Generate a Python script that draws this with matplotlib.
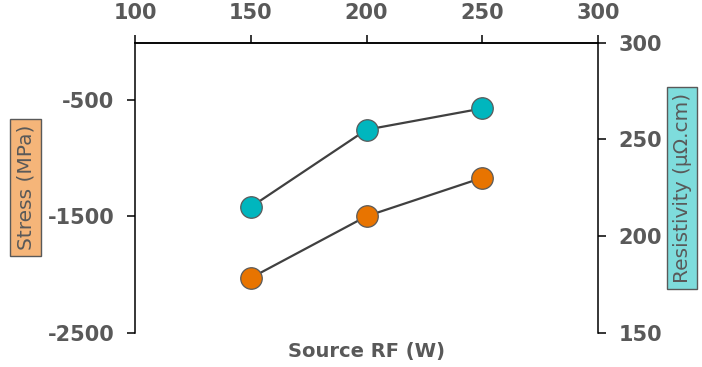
import matplotlib
matplotlib.use("Agg")
import matplotlib.pyplot as plt

plt.rcParams["axes.unicode_minus"] = False

source_rf = [150, 200, 250]
stress = [-2030, -1500, -1170]
resistivity = [215, 255, 266]
x_ticks = [100, 150, 200, 250, 300]
stress_ticks = [-2500, -1500, -500]
res_ticks = [150, 200, 250, 300]

TXT = "#595959"
FONT = ["DejaVu Sans"]

fig = plt.figure(figsize=(7.02, 3.67), dpi=100)
ax = fig.add_axes([135/702, 1-332.7/367, (598-135)/702, (332.7-42.7)/367])
ax2 = ax.twinx()

ax.plot(source_rf, stress, color="#404040", lw=1.6, marker="o", ms=15.5,
        mfc="#E87400", mec="#5a5a5a", mew=0.9, zorder=3)
ax2.plot(source_rf, resistivity, color="#404040", lw=1.6, marker="o", ms=15.5,
         mfc="#00B6BE", mec="#5a5a5a", mew=0.9, zorder=3)

ax.set_xlim(100, 300)
ax.set_ylim(-2500, -10)
ax2.set_ylim(150, 300)
ax.set_xticks(x_ticks)
ax.set_yticks(stress_ticks)
ax2.set_yticks(res_ticks)

ax.xaxis.tick_top()
for a in (ax, ax2):
    a.spines["bottom"].set_visible(False)
    for s in a.spines.values():
        s.set_color("black")
        s.set_linewidth(1.1)
ax2.spines["left"].set_visible(False)
ax.spines["right"].set_visible(False)

ax.tick_params(axis="x", which="both", top=True, bottom=False, labeltop=True, labelbottom=False,
               length=6, width=1.1, pad=8, labelsize=15, labelcolor=TXT, direction="out")
ax.tick_params(axis="y", length=6, width=1.1, pad=9, labelsize=15, labelcolor=TXT, direction="out")
ax2.tick_params(axis="y", length=6, width=1.1, pad=9, labelsize=15, labelcolor=TXT, direction="out")
for lab in ax.get_xticklabels() + ax.get_yticklabels() + ax2.get_yticklabels():
    lab.set_fontfamily(FONT)
    lab.set_fontweight("bold")

fig.text(366.5/702, 1-352/367, "Source RF (W)", ha="center", va="center",
         fontsize=14, fontweight="bold", color=TXT, family=FONT)

fig.text(25.5/702, 1-187.5/367, "Stress (MPa)", rotation=90, ha="center", va="center",
         fontsize=14.5, color=TXT, family=FONT,
         bbox=dict(boxstyle="square,pad=0.28", fc="#F5B579", ec="#595959", lw=1))
fig.text(682/702, 1-188/367, "Resistivity (µΩ.cm)", rotation=90, ha="center", va="center",
         fontsize=14.5, color=TXT, family=FONT,
         bbox=dict(boxstyle="square,pad=0.28", fc="#7EDCDC", ec="#595959", lw=1))

fig.savefig("out.png", dpi=100)
